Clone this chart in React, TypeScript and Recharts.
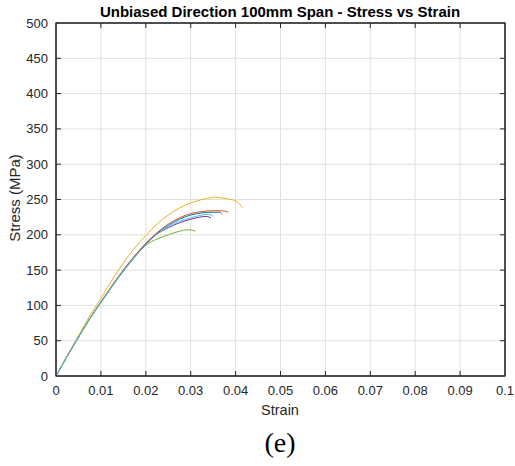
import React from "react";
import { LineChart, Line, XAxis, YAxis, CartesianGrid, ReferenceLine } from "recharts";

// strain values shared by most specimens
const strainBase = [0, 0.0025, 0.005, 0.0075, 0.01, 0.0125, 0.015, 0.0175, 0.02, 0.0225, 0.025, 0.0275, 0.03, 0.0325];

const redStrain = [...strainBase, 0.035, 0.037, 0.0384];
const redStress = [0, 28, 55, 81, 105, 128, 150, 170, 188, 203, 215, 224, 230, 233, 234, 234, 232];

const blueStrain = [...strainBase, 0.035, 0.0365, 0.037];
const blueStress = [0, 28, 55, 81, 105, 128, 150, 170, 187, 202, 213, 222, 228, 231, 232, 232, 229];

const cyanStrain = [...strainBase, 0.034, 0.035];
const cyanStress = [0, 28, 55, 81, 104, 127, 149, 169, 186, 201, 211, 219, 224, 228, 229, 226];

const purpleStrain = [...strainBase.slice(0, 13), 0.032, 0.0335, 0.0345];
const purpleStress = [0, 28, 55, 81, 104, 127, 149, 169, 187, 201, 210, 217, 222, 225, 226, 224];

const greenStrain = [...strainBase.slice(0, 12), 0.029, 0.03, 0.031];
const greenStress = [0, 28, 55, 81, 104, 127, 148, 168, 185, 194, 200, 205, 207, 207, 205];

const yellowStrain = [...strainBase, 0.035, 0.0355, 0.037, 0.039, 0.0405, 0.0415];
const yellowStress = [0, 29, 57, 85, 110, 136, 160, 181, 199, 215, 228, 238, 245, 250, 253, 253.5, 252, 250, 246, 238];

const xTicks = [0, 0.01, 0.02, 0.03, 0.04, 0.05, 0.06, 0.07, 0.08, 0.09, 0.1];
const yTicks = [0, 50, 100, 150, 200, 250, 300, 350, 400, 450, 500];

const zip = (xs: number[], ys: number[]) => xs.map((x, i) => ({ x, y: ys[i] }));

const series = [
  { name: "s1", color: "#0072BD", data: zip(blueStrain, blueStress) },
  { name: "s2", color: "#D95319", data: zip(redStrain, redStress) },
  { name: "s3", color: "#EDB120", data: zip(yellowStrain, yellowStress) },
  { name: "s4", color: "#7E2F8E", data: zip(purpleStrain, purpleStress) },
  { name: "s5", color: "#77AC30", data: zip(greenStrain, greenStress) },
  { name: "s6", color: "#4DBEEE", data: zip(cyanStrain, cyanStress) },
];

const font = "'Liberation Sans', Arial, sans-serif";
const axisColor = "#262626";
const W = 515;
const H = 466;
const M = { top: 23, right: 10, bottom: 60, left: 0 };
const X_AXIS_H = 30;
const Y_AXIS_W = 56;
const GAP = 8; // tickSize + tickMargin of the axes below
const TICK = 5; // inward tick length
const PLOT_TOP = M.top;
const PLOT_RIGHT = W - M.right;
const PLOT_BOTTOM = H - M.bottom - X_AXIS_H;

// bottom axis: label + inward ticks at bottom and top (matlab box style)
const bottomTick = (p: any) => {
  const axisY = p.y - GAP;
  const v = p.payload.value;
  const inner = v > xTicks[0] && v < xTicks[xTicks.length - 1];
  return (
    <g>
      {inner && <line x1={p.x} x2={p.x} y1={axisY} y2={axisY - TICK} stroke={axisColor} />}
      {inner && <line x1={p.x} x2={p.x} y1={PLOT_TOP} y2={PLOT_TOP + TICK} stroke={axisColor} />}
      <text x={p.x} y={p.y + 11} textAnchor="middle" fontSize={13} fill={axisColor} fontFamily={font}>
        {String(+v.toFixed(2))}
      </text>
    </g>
  );
};

// left axis: label + inward ticks at left and right
const leftTick = (p: any) => {
  const axisX = p.x + GAP;
  const v = p.payload.value;
  const inner = v > yTicks[0] && v < yTicks[yTicks.length - 1];
  return (
    <g>
      {inner && <line x1={axisX} x2={axisX + TICK} y1={p.y} y2={p.y} stroke={axisColor} />}
      {inner && <line x1={PLOT_RIGHT} x2={PLOT_RIGHT - TICK} y1={p.y} y2={p.y} stroke={axisColor} />}
      <text x={p.x} y={p.y + 4.5} textAnchor="end" fontSize={13} fill={axisColor} fontFamily={font}>
        {v}
      </text>
    </g>
  );
};

export default function App() {
  return (
    <div style={{ position: "absolute", left: 0, top: 0, width: W, height: H, background: "#fff", fontFamily: font }}>
      <LineChart width={W} height={H} margin={M}>
        <CartesianGrid stroke="#e0e0e0" horizontalValues={yTicks} verticalValues={xTicks} />
        <XAxis
          type="number"
          dataKey="x"
          domain={[0, 0.1]}
          ticks={xTicks}
          height={X_AXIS_H}
          tickSize={6}
          tickMargin={2}
          tickLine={false}
          stroke={axisColor}
          tick={(p: any) => bottomTick(p)}
          allowDataOverflow
        />
        <YAxis
          type="number"
          domain={[0, 500]}
          ticks={yTicks}
          width={Y_AXIS_W}
          tickSize={6}
          tickMargin={2}
          tickLine={false}
          stroke={axisColor}
          tick={(p: any) => leftTick(p)}
        />
        <ReferenceLine y={500} stroke={axisColor} strokeWidth={1} />
        <ReferenceLine x={0.1} stroke={axisColor} strokeWidth={1} />
        {series.map((s) => (
          <Line
            key={s.name}
            data={s.data}
            dataKey="y"
            type="monotone"
            stroke={s.color}
            strokeWidth={1}
            dot={false}
            isAnimationActive={false}
          />
        ))}
        {/* axes box */}
        <rect
          x={Y_AXIS_W + M.left}
          y={PLOT_TOP}
          width={PLOT_RIGHT - Y_AXIS_W - M.left}
          height={PLOT_BOTTOM - PLOT_TOP}
          fill="none"
          stroke={axisColor}
          strokeWidth={1.2}
        />
        <text x={280} y={17} textAnchor="middle" fontSize={15} fontWeight="bold" fill="#000" fontFamily={font}>
          Unbiased Direction 100mm Span - Stress vs Strain
        </text>
        <text x={280} y={415} textAnchor="middle" fontSize={14.5} fill={axisColor} fontFamily={font}>
          Strain
        </text>
        <text
          x={20}
          y={198}
          textAnchor="middle"
          fontSize={15}
          fill={axisColor}
          fontFamily={font}
          transform="rotate(-90 20 198)"
        >
          Stress (MPa)
        </text>
        <text x={280} y={452} textAnchor="middle" fontSize={28} fill="#000" fontFamily="'Liberation Serif', 'Times New Roman', serif">
          (e)
        </text>
      </LineChart>
    </div>
  );
}
